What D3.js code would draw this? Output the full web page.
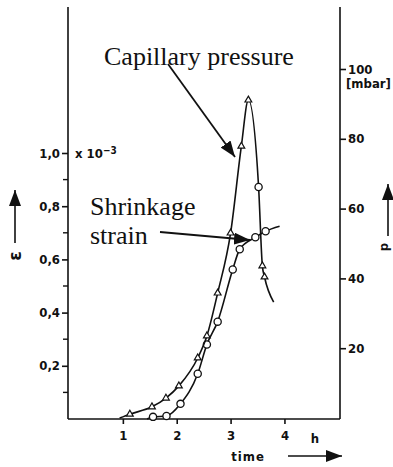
<!DOCTYPE html>
<html>
<head>
<meta charset="utf-8">
<script src="https://cdn.jsdelivr.net/npm/d3@7"></script>
<style>
  body { margin: 0; background: #fff; }
  .tick-label { font-family: "Liberation Sans Narrow", "DejaVu Sans Condensed", sans-serif; font-weight: bold; font-size: 13px; fill: #111; }
  .note { font-family: "Liberation Serif", "Times New Roman", serif; font-size: 26px; fill: #111; }
</style>
</head>
<body>
<script>
let width = 393
let height = 467

// capillary pressure, mbar over hours (right axis)
let pressureHours = [0.94, 1.13, 1.54, 1.80, 2.04, 2.39, 2.56, 2.76, 3.00, 3.20, 3.33, 3.52, 3.59, 3.63, 3.80]
let pressureMbar  = [0,    1.1,  3.2,  5.7,  9.2,  17.2, 23.5, 35.8, 53.0, 77.9, 91.1, 66.2, 43.6, 40.4, 33.2]
let pressureMarks = ['', 'tri', 'tri', 'tri', 'tri', 'tri', 'tri', 'tri', 'tri', 'tri', 'tri', 'ring', 'tri', 'tri', '']

// shrinkage strain, x 10^-3 over hours (left axis)
let strainHours = [1.45, 1.56, 1.81, 2.07, 2.39, 2.56, 2.76, 3.04, 3.17, 3.46, 3.65, 3.91]
let strainValue = [0,    0.008, 0.011, 0.057, 0.17, 0.28, 0.366, 0.562, 0.638, 0.683, 0.706, 0.725]
let strainMarks = ['', 'ring', 'ring', 'ring', 'ring', 'ring', 'ring', 'ring', 'ring', 'ring', 'ring', '']

let hourTicks = [1, 2, 3, 4]
let strainTicks = [0.2, 0.4, 0.6, 0.8, 1.0]
let strainMinor = [0.1, 0.3, 0.5, 0.7, 0.9]
let pressureTicks = [20, 40, 60, 80, 100]

let svg = d3.select('body')
    .append('svg')
        .attr('width', width)
        .attr('height', height)

let defs = svg.append('defs')
defs.append('marker')
        .attr('id', 'head')
        .attr('viewBox', '0 0 16 12')
        .attr('refX', 16)
        .attr('refY', 6)
        .attr('markerWidth', 16)
        .attr('markerHeight', 12)
        .attr('markerUnits', 'userSpaceOnUse')
        .attr('orient', 'auto')
    .append('path')
        .attr('d', 'M0,0 L16,6 L0,12 Z')
        .attr('fill', '#111')

let x = d3.scaleLinear().domain([0, 5.05]).range([69, 341])
let yStrain = d3.scaleLinear().domain([0, 1]).range([419, 153])
let yPressure = d3.scaleLinear().domain([0, 100]).range([418, 69])

let ink = '#111'

// frame: two vertical axes and the time baseline
let frame = svg.append('g').attr('stroke', ink).attr('stroke-width', 1.6)
frame.append('line').attr('x1', 68).attr('x2', 68).attr('y1', 7).attr('y2', 419)
frame.append('line').attr('x1', 340).attr('x2', 340).attr('y1', 7).attr('y2', 419)
frame.append('line').attr('x1', 68).attr('x2', 340).attr('y1', 419).attr('y2', 419)

// left axis
let leftAxis = svg.append('g')
    .attr('transform', 'translate(68,0)')
    .call(d3.axisLeft(yStrain).tickValues(strainTicks).tickSize(6).tickPadding(2)
        .tickFormat(d => d3.format('.1f')(d).replace('.', ',')))
leftAxis.select('.domain').remove()
leftAxis.selectAll('line').attr('stroke', ink).attr('stroke-width', 1.6)
leftAxis.selectAll('text').attr('class', 'tick-label').attr('font-family', null).attr('font-size', null)

svg.append('g')
    .selectAll('line')
    .data(strainMinor)
    .enter()
    .append('line')
        .attr('x1', 63).attr('x2', 68)
        .attr('y1', d => yStrain(d)).attr('y2', d => yStrain(d))
        .attr('stroke', ink).attr('stroke-width', 1.4)

let unit = svg.append('text')
    .attr('class', 'tick-label')
    .attr('x', 75)
    .attr('y', yStrain(1) + 5)
unit.append('tspan').text('x 10')
unit.append('tspan').attr('dy', -4).attr('font-size', 10).text('−3')

// right axis
let rightAxis = svg.append('g')
    .attr('transform', 'translate(340,0)')
    .call(d3.axisRight(yPressure).tickValues(pressureTicks).tickSize(6).tickPadding(2))
rightAxis.select('.domain').remove()
rightAxis.selectAll('line').attr('stroke', ink).attr('stroke-width', 1.6)
rightAxis.selectAll('text').attr('class', 'tick-label').attr('font-family', null).attr('font-size', null)

svg.append('text')
    .attr('class', 'tick-label')
    .attr('x', 346)
    .attr('y', yPressure(100) + 19)
    .text('[mbar]')

// time axis
let bottomAxis = svg.append('g')
    .attr('transform', 'translate(0,419)')
    .call(d3.axisBottom(x).tickValues(hourTicks).tickSize(5).tickPadding(7).tickFormat(d3.format('d')))
bottomAxis.select('.domain').remove()
bottomAxis.selectAll('line').attr('stroke', ink).attr('stroke-width', 1.6)
bottomAxis.selectAll('text').attr('class', 'tick-label').attr('font-family', null).attr('font-size', null)

svg.append('text').attr('class', 'tick-label')
    .attr('x', 315).attr('y', 443).attr('text-anchor', 'middle').text('h')
svg.append('text').attr('class', 'tick-label')
    .attr('x', 248).attr('y', 461).attr('text-anchor', 'middle').attr('letter-spacing', 1).text('time')
svg.append('line')
    .attr('x1', 288).attr('x2', 342).attr('y1', 456).attr('y2', 456)
    .attr('stroke', ink).attr('stroke-width', 1.6)
    .attr('marker-end', 'url(#head)')

// axis quantity symbols with upward arrows
svg.append('text')
    .attr('transform', 'translate(21,256) rotate(-90)')
    .attr('text-anchor', 'middle')
    .attr('font-family', 'DejaVu Sans, sans-serif')
    .attr('font-weight', 'bold')
    .attr('font-size', 17)
    .attr('fill', ink)
    .text('ε')
svg.append('line')
    .attr('x1', 15).attr('x2', 15).attr('y1', 243).attr('y2', 190)
    .attr('stroke', ink).attr('stroke-width', 1.6)
    .attr('marker-end', 'url(#head)')

svg.append('text').attr('class', 'tick-label')
    .attr('transform', 'translate(388,247) rotate(-90)')
    .attr('text-anchor', 'middle').attr('font-size', 14).text('p')
svg.append('line')
    .attr('x1', 388).attr('x2', 388).attr('y1', 236).attr('y2', 184)
    .attr('stroke', ink).attr('stroke-width', 1.6)
    .attr('marker-end', 'url(#head)')

// curves
function drawSeries(hours, values, marks, yScale) {
    let pts = hours.map((h, i) => ({ h: h, v: values[i], m: marks[i] }))
    let line = d3.line()
        .x(d => x(d.h))
        .y(d => yScale(d.v))
        .curve(d3.curveMonotoneX)
    svg.append('path')
        .datum(pts)
        .attr('d', line)
        .attr('fill', 'none')
        .attr('stroke', ink)
        .attr('stroke-width', 1.6)

    let sym = svg.append('g')
    sym.selectAll('path.tri')
        .data(pts.filter(d => d.m === 'tri'))
        .enter()
        .append('path')
            .attr('class', 'tri')
            .attr('transform', d => 'translate(' + x(d.h) + ',' + yScale(d.v) + ')')
            .attr('d', d3.symbol(d3.symbolTriangle, 20))
            .attr('fill', '#fff')
            .attr('stroke', ink)
            .attr('stroke-width', 1.2)
    sym.selectAll('circle')
        .data(pts.filter(d => d.m === 'ring'))
        .enter()
        .append('circle')
            .attr('cx', d => x(d.h))
            .attr('cy', d => yScale(d.v))
            .attr('r', 3.6)
            .attr('fill', '#fff')
            .attr('stroke', ink)
            .attr('stroke-width', 1.3)
}

drawSeries(strainHours, strainValue, strainMarks, yStrain)
drawSeries(pressureHours, pressureMbar, pressureMarks, yPressure)

// callouts
svg.append('text').attr('class', 'note').attr('x', 104).attr('y', 65).text('Capillary pressure')
svg.append('text').attr('class', 'note').attr('x', 90).attr('y', 215).text('Shrinkage')
svg.append('text').attr('class', 'note').attr('x', 90).attr('y', 244).text('strain')

svg.append('line')
    .attr('x1', 168).attr('y1', 64).attr('x2', 235).attr('y2', 157)
    .attr('stroke', ink).attr('stroke-width', 1.8)
    .attr('marker-end', 'url(#head)')
svg.append('line')
    .attr('x1', 160).attr('y1', 232).attr('x2', 250).attr('y2', 240)
    .attr('stroke', ink).attr('stroke-width', 1.8)
    .attr('marker-end', 'url(#head)')
</script>
</body>
</html>
